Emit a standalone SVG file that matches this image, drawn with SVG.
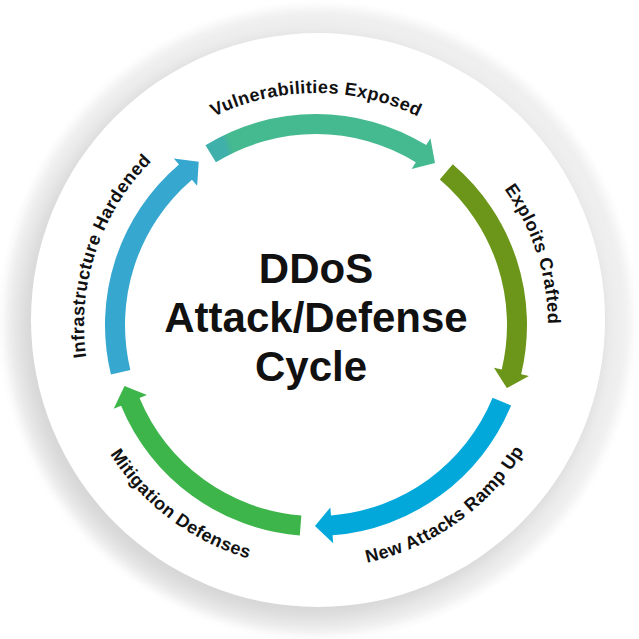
<svg xmlns="http://www.w3.org/2000/svg" width="639" height="639" viewBox="0 0 639 639">
<style>
.lbl{font-family:"Liberation Sans",Arial,sans-serif;font-weight:bold;font-size:18px;letter-spacing:0.4px;fill:#111}
.title{font-family:"Liberation Sans",Arial,sans-serif;font-weight:bold;font-size:42px;fill:#111;text-anchor:middle}
</style>
<defs>
<filter id="halo" x="-20%" y="-20%" width="140%" height="140%"><feGaussianBlur stdDeviation="5"/></filter>
<filter id="shadow" x="-20%" y="-20%" width="140%" height="140%"><feGaussianBlur stdDeviation="9"/></filter>
<path id="arrowShape" d="M211,0 A211,211 0 0 1 95.46,188.17 L99.08,195.30 L75.62,186.23 L82.80,163.20 L86.42,170.33 A191,191 0 0 0 191,0 Z"/>
<linearGradient id="gTeal" gradientUnits="userSpaceOnUse" x1="201" y1="0" x2="185" y2="70">
<stop offset="0" stop-color="#3fb0aa"/><stop offset="0.22" stop-color="#3fb0aa"/><stop offset="0.32" stop-color="#45b98f"/><stop offset="1" stop-color="#45b98f"/>
</linearGradient>
<path id="pVul" d="M97.99,245.65 A232,232 0 0 1 534.01,245.65"/>
<path id="pExp" d="M324.10,93.14 A232,232 0 0 1 458.83,507.82"/>
<path id="pInf" d="M171.58,506.57 A232,232 0 0 1 309.93,93.08"/>
<path id="pNew" d="M178.36,525.26 A243,243 0 0 0 550.16,260.06"/>
<path id="pMit" d="M83.62,253.95 A243,243 0 0 0 448.35,528.80"/>
</defs>
<rect width="639" height="639" fill="#fff"/>
<g id="background">
<circle cx="318" cy="321" r="313" fill="#efefef" filter="url(#halo)"/>
<circle cx="311" cy="328" r="291" fill="#d6d6d6" filter="url(#shadow)"/>
<circle cx="318" cy="320" r="287" fill="#fff"/>
</g>
<g id="connectors">
<use href="#arrowShape" transform="translate(316,325) rotate(238.4)" fill="url(#gTeal)"/>
<use href="#arrowShape" transform="translate(316,325) rotate(310.4)" fill="#6b9619"/>
<use href="#arrowShape" transform="translate(316,325) rotate(22.4)" fill="#03a8db"/>
<use href="#arrowShape" transform="translate(316,325) rotate(94.4)" fill="#3db54a"/>
<use href="#arrowShape" transform="translate(316,325) rotate(166.4)" fill="#36a7cf"/>
</g>
<g id="node-vulnerabilities"><text class="lbl"><textPath href="#pVul" startOffset="50%" text-anchor="middle">Vulnerabilities Exposed</textPath></text></g>
<g id="node-exploits"><text class="lbl"><textPath href="#pExp" startOffset="50%" text-anchor="middle">Exploits Crafted</textPath></text></g>
<g id="node-new-attacks"><text class="lbl"><textPath href="#pNew" startOffset="50%" text-anchor="middle">New Attacks Ramp Up</textPath></text></g>
<g id="node-mitigation"><text class="lbl"><textPath href="#pMit" startOffset="50%" text-anchor="middle">Mitigation Defenses</textPath></text></g>
<g id="node-infrastructure"><text class="lbl"><textPath href="#pInf" startOffset="50%" text-anchor="middle">Infrastructure Hardened</textPath></text></g>
<g id="node-title">
<text class="title" x="316" y="283">DDoS</text>
<text class="title" x="316" y="332">Attack/Defense</text>
<text class="title" x="311" y="381">Cycle</text>
</g>
</svg>
